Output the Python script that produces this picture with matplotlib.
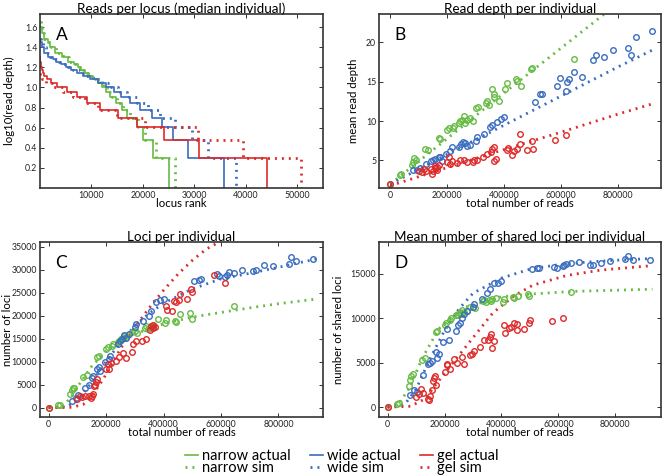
import numpy as np
import matplotlib
matplotlib.use("Agg")
import matplotlib.pyplot as plt
from matplotlib.lines import Line2D

plt.rcParams['font.family'] = ['Lato', 'DejaVu Sans']

GREEN = '#66bb44'
BLUE = '#3a6cc0'
RED = '#dd2a2a'

# ---- panel A: read depth per locus (depth level, rank where it ends) ----
narrow_depths = [45, 40, 35, 30, 28, 25, 22, 20, 18, 17, 16, 15, 14, 13, 12, 11, 10, 9, 8, 7, 6, 5, 4, 3, 2]
narrow_actual_end = [100, 300, 700, 1500, 2000, 3000, 4300, 5400, 6600, 7300, 8000, 8800, 9600,
                     10400, 11200, 12000, 12800, 13700, 14700, 15900, 17000, 18800, 20100, 22000, 25100]
narrow_sim_end = [150, 350, 800, 1600, 2100, 3100, 4500, 5600, 6900, 7600, 8300, 9100, 9900,
                  10700, 11500, 12300, 13100, 14000, 15000, 16200, 17400, 19000, 20500, 22600, 26200]

wide_depths = [30, 28, 25, 22, 20, 19, 18, 17, 16, 15, 14, 13, 12, 11, 10, 9, 8, 7, 6, 5, 4, 3, 2]
wide_actual_end = [100, 300, 800, 1600, 2500, 3200, 4000, 5000, 6000, 7200, 8400, 9800, 11300,
                   12800, 14300, 15800, 17500, 19400, 21700, 23800, 25900, 28800, 35800]
wide_sim_end = [200, 500, 1100, 2000, 2900, 3600, 4400, 5400, 6500, 7700, 9000, 10400, 12000,
                13600, 15200, 16900, 18800, 20900, 23400, 26200, 29500, 32700, 38100]

gel_depths = [20, 18, 16, 15, 14, 13, 12, 11, 10, 9, 8, 7, 6, 5, 4, 3, 2]
gel_actual_end = [50, 150, 300, 500, 800, 1300, 2200, 3300, 5200, 7100, 9200, 11700, 15200,
                  18800, 24100, 30900, 44100]
gel_sim_depths = [14, 13, 12, 11, 10, 9, 8, 7, 6, 5, 4, 3, 2]
gel_sim_end = [100, 300, 1200, 2500, 4500, 6500, 8800, 11300, 15000, 20500, 30800, 39400, 50700]

# ---- individuals: total reads, mean depth, loci, shared loci ----
narrow_reads = [0, 33000, 39000, 76000, 80000, 84000, 90000, 120000, 132000, 170000, 175000,
                200000, 205000, 220000, 224000, 240000, 246000, 252000, 258000, 262000, 268000,
                278000, 290000, 300000, 308000, 334000, 340000, 345000, 357000, 362000, 365000,
                382000, 404000, 410000, 440000, 445000, 457000, 493000, 498000, 644000]
narrow_depth = [2.0, 3.15, 3.3, 4.4, 4.8, 5.3, 5.1, 6.5, 6.3, 7.8, 7.7, 8.9, 9.1, 9.1, 9.4, 9.8,
                10.0, 10.2, 10.6, 9.8, 10.1, 10.4, 10.0, 11.7, 11.8, 12.3, 12.5, 12.0, 14.1, 13.5,
                13.0, 12.5, 14.1, 14.9, 15.4, 15.1, 14.5, 16.6, 16.7, 17.9]
narrow_loci = [0, 500, 600, 2900, 3800, 4400, 4300, 6600, 7200, 11000, 11300, 12700, 13100, 13500,
               13900, 14200, 14600, 15000, 15200, 15600, 15300, 15900, 16400, 16600, 16300, 17400,
               17800, 17000, 17300, 17600, 18000, 19300, 18500, 19000, 18900, 18700, 20300, 20500,
               19300, 22000]
narrow_shared = [0, 400, 450, 2400, 3000, 3500, 3700, 5300, 5500, 8400, 8600, 9200, 9400, 9800,
                 10000, 10400, 10300, 10600, 10500, 10900, 10700, 10800, 11200, 11300, 11100, 11900,
                 12000, 11800, 12000, 11900, 12100, 12300, 11800, 12200, 12400, 12300, 12500, 12700,
                 12500, 12950]

wide_reads = [80000, 94000, 103000, 125000, 141000, 150000, 155000, 170000, 175000, 180000, 195000,
              209000, 215000, 240000, 249000, 255000, 262000, 268000, 280000, 300000, 305000,
              330000, 350000, 358000, 373000, 389000, 400000, 507000, 525000, 532000, 585000,
              594000, 615000, 621000, 627000, 644000, 673000, 711000, 723000, 749000, 782000,
              835000, 843000, 861000, 920000]
wide_depth = [3.8, 3.8, 4.1, 4.6, 4.96, 5.0, 5.2, 5.5, 5.4, 4.9, 5.8, 6.2, 6.7, 6.7, 7.1, 7.3,
              7.2, 6.8, 7.0, 7.5, 8.0, 8.3, 9.2, 9.5, 9.9, 10.3, 10.5, 12.45, 13.4, 13.5, 14.4,
              15.5, 13.85, 15.0, 15.4, 16.2, 15.65, 17.8, 18.4, 18.1, 19.05, 19.3, 18.4, 20.7, 21.5]
wide_loci = [1500, 2200, 2800, 4200, 5000, 6500, 6900, 8400, 8800, 8000, 10000, 10600, 11300,
             13800, 14600, 15000, 15700, 15200, 16000, 17500, 18200, 18900, 20000, 21000, 22900,
             23500, 23700, 27500, 27700, 27900, 29100, 28700, 28400, 28900, 29500, 29200, 30000,
             29800, 29900, 31000, 30800, 31200, 32800, 31800, 32200]
wide_shared = [1400, 1900, 1700, 3600, 4900, 5000, 5200, 6200, 5500, 6000, 7300, 8800, 7500,
               8600, 9200, 9500, 10000, 10500, 10800, 11300, 11600, 12200, 12800, 13300, 13900,
               14000, 14200, 15500, 15600, 15650, 15700, 15650, 15800, 16000, 16100, 16200, 16300,
               16000, 16000, 16200, 16400, 16600, 17000, 16500, 16500]

gel_reads = [0, 100000, 110000, 117000, 125000, 141000, 147000, 150000, 155000, 158000, 162000,
             165000, 170000, 200000, 207000, 210000, 218000, 235000, 245000, 260000, 268000,
             291000, 295000, 303000, 326000, 338000, 352000, 358000, 362000, 365000, 372000,
             408000, 413000, 428000, 435000, 444000, 454000, 456000, 480000, 497000, 499000,
             577000, 615000]
gel_depth = [2.0, 3.6, 3.5, 3.9, 3.7, 3.95, 3.3, 3.6, 4.36, 4.0, 4.2, 3.8, 4.4, 4.75, 5.4, 4.5,
             4.9, 4.65, 5.1, 5.0, 4.8, 4.8, 5.0, 5.1, 5.5, 5.8, 6.1, 6.4, 6.7, 4.95, 5.2, 6.3,
             6.6, 5.7, 6.2, 6.5, 8.4, 7.05, 6.3, 7.5, 6.5, 7.6, 8.2]
gel_loci = [0, 1800, 2600, 2400, 2600, 2500, 2200, 2500, 3000, 4800, 5000, 5500, 6200, 8500,
            9500, 8400, 9800, 10200, 11000, 12000, 10800, 12200, 13800, 14500, 14600, 15000,
            16800, 17800, 18000, 17300, 17500, 22000, 21300, 21000, 23100, 23000, 23300, 24600,
            23700, 25700, 25200, 28800, 27100]
gel_shared = [0, 1100, 1500, 2000, 1600, 900, 800, 1300, 1900, 2900, 3300, 3500, 2500, 4000,
              4700, 4900, 4300, 5400, 5000, 5600, 4900, 5900, 6000, 6300, 6800, 7500, 7600, 7900,
              8200, 6600, 7400, 9200, 8300, 8900, 9000, 9500, 9300, 8700, 8800, 9400, 9800, 9700,
              10000]

# ---- simulated curves ----
sim_b_reads = [0, 200000, 400000, 600000, 800000, 930000]
narrow_sim_b = [2.0, 7.8, 13.6, 19.3, 25.0, 28.7]
wide_sim_b = [2.0, 5.8, 9.5, 13.2, 16.9, 19.2]
gel_sim_b = [1.8, 4.1, 6.4, 8.6, 10.9, 12.3]

narrow_sim_c_reads = [0, 50000, 80000, 100000, 150000, 200000, 250000, 300000, 350000, 400000,
                      500000, 600000, 700000, 800000, 930000]
narrow_sim_c = [0, 300, 2500, 4500, 9000, 12300, 14500, 16000, 17200, 18200, 19700, 20700, 21700,
                22600, 23600]
wide_sim_c_reads = [0, 60000, 100000, 150000, 200000, 250000, 300000, 350000, 400000, 500000,
                    600000, 700000, 800000, 930000]
wide_sim_c = [0, 200, 1500, 5500, 10000, 14200, 17800, 20500, 22700, 25800, 28000, 29200, 30500,
              32300]
gel_sim_c_reads = [0, 80000, 120000, 150000, 190000, 250000, 300000, 360000, 400000, 450000,
                   500000, 550000, 600000, 650000]
gel_sim_c = [0, 100, 700, 2500, 6200, 12800, 17500, 22500, 25500, 29000, 32000, 34500, 36200,
             38000]

narrow_sim_d_reads = [0, 40000, 80000, 120000, 180000, 270000, 400000, 500000, 650000, 930000]
narrow_sim_d = [0, 400, 2300, 5400, 8800, 11200, 12400, 12700, 13000, 13250]
wide_sim_d_reads = [0, 60000, 100000, 150000, 200000, 250000, 300000, 400000, 500000, 600000,
                    700000, 800000, 930000]
wide_sim_d = [0, 300, 2000, 5500, 8600, 11000, 12800, 14500, 15500, 16000, 16300, 16500, 16700]
gel_sim_d_reads = [0, 80000, 130000, 200000, 300000, 370000, 444000, 510000, 630000, 750000, 930000]
gel_sim_d = [0, 100, 900, 3800, 7800, 10600, 12500, 13700, 14800, 15400, 15900]

DOT = (0, (0.7, 1.8))


def style_axes(ax):
    for s in ax.spines.values():
        s.set_linewidth(1.2)
        s.set_color('#333333')
    ax.tick_params(direction='in', length=3, width=0.7, labelsize=6.3, top=True, right=True,
                   pad=2, colors='#333333', labelcolor='#222222')


def step_curve(ax, depths, ends, color, ls, lw):
    x = [0] + list(ends)
    y = list(np.log10(depths)) + [0]
    ax.step(x, y, where='post', color=color, ls=ls, lw=lw)


fig = plt.figure(figsize=(6.62, 4.76), dpi=100)
axA = fig.add_axes([0.0604, 0.605, 0.4275, 0.3655])
axB = fig.add_axes([0.5725, 0.605, 0.4260, 0.3655])
axC = fig.add_axes([0.0604, 0.124, 0.4275, 0.3676])
axD = fig.add_axes([0.5725, 0.124, 0.4260, 0.3676])

# A
step_curve(axA, narrow_depths, narrow_sim_end, GREEN, DOT, 2.0)
step_curve(axA, wide_depths, wide_sim_end, BLUE, DOT, 2.0)
step_curve(axA, gel_sim_depths, gel_sim_end, RED, DOT, 2.0)
step_curve(axA, narrow_depths, narrow_actual_end, GREEN, '-', 1.2)
step_curve(axA, wide_depths, wide_actual_end, BLUE, '-', 1.2)
step_curve(axA, gel_depths, gel_actual_end, RED, '-', 1.2)
axA.set_xlim(0, 55000)
axA.set_ylim(0, 1.73)
axA.set_xticks(range(10000, 50001, 10000))
axA.set_yticks([0.2, 0.4, 0.6, 0.8, 1.0, 1.2, 1.4, 1.6])
axA.set_title('Reads per locus (median individual)', fontsize=9.7, pad=1)
axA.set_xlabel('locus rank', fontsize=8.2, labelpad=-1)
axA.set_ylabel('log10(read depth)', fontsize=8.2)

# B, C, D
mk = dict(ls='none', marker='o', ms=4.0, mfc='none', mew=1.0)
panels = [
    (axB, 'Read depth per individual', 'mean read depth',
     [(narrow_reads, narrow_depth, GREEN), (wide_reads, wide_depth, BLUE), (gel_reads, gel_depth, RED)],
     [(sim_b_reads, narrow_sim_b, GREEN), (sim_b_reads, wide_sim_b, BLUE), (sim_b_reads, gel_sim_b, RED)]),
    (axC, 'Loci per individual', 'number of loci',
     [(narrow_reads, narrow_loci, GREEN), (wide_reads, wide_loci, BLUE), (gel_reads, gel_loci, RED)],
     [(narrow_sim_c_reads, narrow_sim_c, GREEN), (wide_sim_c_reads, wide_sim_c, BLUE),
      (gel_sim_c_reads, gel_sim_c, RED)]),
    (axD, 'Mean number of shared loci per individual', 'number of shared loci',
     [(narrow_reads, narrow_shared, GREEN), (wide_reads, wide_shared, BLUE), (gel_reads, gel_shared, RED)],
     [(narrow_sim_d_reads, narrow_sim_d, GREEN), (wide_sim_d_reads, wide_sim_d, BLUE),
      (gel_sim_d_reads, gel_sim_d, RED)]),
]
for ax, title, ylab, pts, sims in panels:
    for x, y, c in sims:
        ax.plot(x, y, color=c, ls=DOT, lw=2.0)
    for x, y, c in pts:
        ax.plot(x, y, color=c, **mk)
    ax.set_title(title, fontsize=9.7, pad=1)
    ax.set_xlabel('total number of reads', fontsize=8.2, labelpad=-1)
    ax.set_ylabel(ylab, fontsize=8.2)
    ax.set_xticks(range(0, 800001, 200000))

axB.set_xlim(-40000, 950000)
axB.set_ylim(1.5, 23.6)
axB.set_yticks([5, 10, 15, 20])
axC.set_xlim(-30000, 955000)
axC.set_ylim(-2000, 36000)
axC.set_yticks(range(0, 35001, 5000))
axD.set_xlim(-30000, 960000)
axD.set_ylim(-1100, 18550)
axD.set_yticks([0, 5000, 10000, 15000])

# y label positions as in the original figure
axA.yaxis.set_label_coords(-0.088, 0.5)
axB.yaxis.set_label_coords(-0.071, 0.5)
axC.yaxis.set_label_coords(-0.096, 0.5)
axD.yaxis.set_label_coords(-0.124, 0.5)

for ax, letter in zip([axA, axB, axC, axD], 'ABCD'):
    style_axes(ax)
    ax.text(0.055, 0.88, letter, transform=ax.transAxes, fontsize=12.5, va='center', ha='left')

handles = [
    Line2D([], [], color=GREEN, lw=1.2), Line2D([], [], color=GREEN, lw=2.0, ls=DOT),
    Line2D([], [], color=BLUE, lw=1.2), Line2D([], [], color=BLUE, lw=2.0, ls=DOT),
    Line2D([], [], color=RED, lw=1.2), Line2D([], [], color=RED, lw=2.0, ls=DOT),
]
labels = ['narrow actual', 'narrow sim', 'wide actual', 'wide sim', 'gel actual', 'gel sim']
fig.legend(handles, labels, ncol=3, loc='lower center', bbox_to_anchor=(0.516, -0.02),
           frameon=False, fontsize=10.5, handlelength=0.9, handletextpad=0.3, columnspacing=1.3,
           labelspacing=-0.1, borderpad=0.2)

fig.savefig('out.png', dpi=100)
